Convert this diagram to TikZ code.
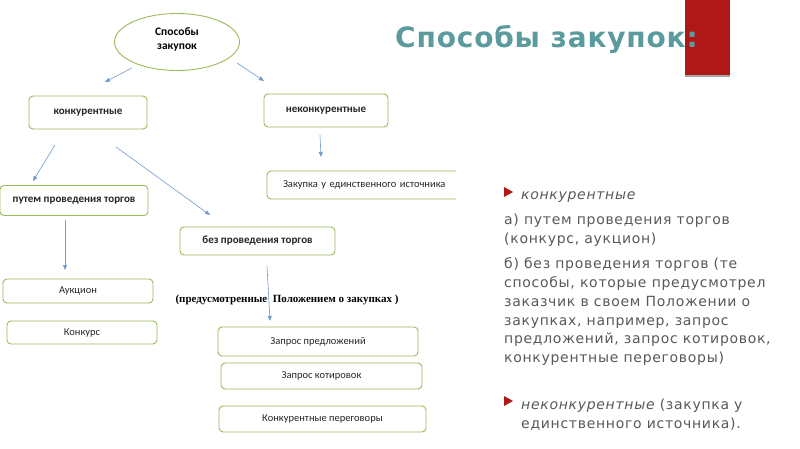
\documentclass[tikz,border=0pt]{standalone}
\usepackage{fontspec}
\setmainfont{Carlito}
\newfontfamily\titlefont[LetterSpace=3]{DejaVu Sans}
\newfontfamily\bodyfont[LetterSpace=5]{DejaVu Sans}
\newfontfamily\serifbold{Liberation Serif}
\usetikzlibrary{arrows.meta,shapes.geometric}
\definecolor{boxgreen}{HTML}{9BBB59}
\definecolor{arrowblue}{HTML}{6F9BD1}
\definecolor{titleteal}{HTML}{5B9A9D}
\definecolor{barred}{HTML}{B01818}
\definecolor{bodygrey}{HTML}{595959}
\begin{document}
\begin{tikzpicture}[x=1pt,y=-1pt,
  box/.style={draw=boxgreen, line width=0.9pt, rounded corners=4pt, inner sep=0pt,
    font=\fontsize{10.5}{12}\selectfont, text=black!85},
  bbox/.style={box, font=\fontsize{11}{13}\selectfont\bfseries},
  conn/.style={draw=arrowblue, line width=0.6pt, -{Triangle[length=5pt,width=4pt]}},
  body/.style={anchor=base west, inner sep=0pt, text=bodygrey, font=\bodyfont\fontsize{14}{16}\selectfont},
  bullet/.style={fill=barred, draw=none}
]
\fill[white] (0,0) rectangle (800,449);
\useasboundingbox (0,0) rectangle (800,449);

% title and red bar
\fill[black!35] (685,73) rectangle (730,77);
\fill[barred] (685,0) rectangle (730,75);
\node[anchor=base west, inner sep=0pt, text=titleteal, font=\titlefont\bfseries\fontsize{28}{30}\selectfont] (title) at (395,48) {Способы закупок:};

% diagram
\node[draw=boxgreen, line width=0.9pt, ellipse, minimum width=125pt, minimum height=57pt, inner sep=0pt, align=center,
  font=\fontsize{11.5}{14}\selectfont\bfseries] (root) at (177,42) {Способы\\закупок\\[-8pt]};
\node[bbox, minimum width=118pt, minimum height=33pt] (konk) at (88,112.5) {конкурентные};
\node[bbox, minimum width=124pt, minimum height=33pt] (nekonk) at (326,110.5) {неконкурентные};
\node[bbox, minimum width=148pt, minimum height=30pt] (torg) at (74,200.5) {путем проведения торгов};
\begin{scope}
\clip (260,160) rectangle (456,210);
\node[box, minimum width=200pt, minimum height=28pt, text width=200pt, align=left] (edin) at (367,185) {\hspace*{16pt}Закупка у единственного источника};
\end{scope}
\node[bbox, minimum width=155pt, minimum height=28pt] (bez) at (257.5,241) {без проведения торгов};
\node[box, minimum width=150pt, minimum height=24pt] (auk) at (78,291) {Аукцион};
\node[box, minimum width=150pt, minimum height=23pt] (konkurs) at (82,332.5) {Конкурс};
\node[inner sep=0pt, font=\serifbold\bfseries\fontsize{11}{13}\selectfont] (polozh) at (287,300) {(предусмотренные\ \ Положением о закупках )};
\node[box, minimum width=200pt, minimum height=29pt] (zpred) at (318,341.5) {Запрос предложений};
\node[box, minimum width=201pt, minimum height=26pt] (zkot) at (321.5,376) {Запрос котировок};
\node[box, minimum width=207pt, minimum height=26pt] (zper) at (322.5,419) {Конкурентные переговоры};

% connectors
\coordinate (a1s) at (132,68); \coordinate (a1e) at (105,82);
\coordinate (a2s) at (237,63); \coordinate (a2e) at (264,81);
\coordinate (a3s) at (55,145); \coordinate (a3e) at (33,181);
\coordinate (a4s) at (116,147); \coordinate (a4e) at (210,215);
\coordinate (a5s) at (320,135); \coordinate (a5e) at (321,157);
\coordinate (a6s) at (65,220); \coordinate (a6e) at (65,270);
\coordinate (a7s) at (267,266); \coordinate (a7e) at (270,321);
\draw[conn] (a1s) -- (a1e);
\draw[conn] (a2s) -- (a2e);
\draw[conn] (a3s) -- (a3e);
\draw[conn] (a4s) -- (a4e);
\draw[conn] (a5s) -- (a5e);
\draw[conn] (a6s) -- (a6e);
\draw[conn] (a7s) -- (a7e);

% right text
\fill[bullet] (504,187) -- (513,192) -- (504,197) -- cycle;
\node[body] (t1) at (521,200) {\itshape конкурентные};
\node[body] (t2) at (504,225) {а) путем проведения торгов};
\node[body] (t3) at (504,243) {(конкурс, аукцион)};
\node[body] (t4) at (504,268) {б) без проведения торгов (те};
\node[body] (t5) at (504,287) {способы, которые предусмотрел};
\node[body] (t6) at (504,306) {заказчик в своем Положении о};
\node[body] (t7) at (504,325) {закупках, например, запрос};
\node[body] (t8) at (504,343) {предложений, запрос котировок,};
\node[body] (t9) at (504,362) {конкурентные переговоры)};
\fill[bullet] (504,396) -- (513,401) -- (504,406) -- cycle;
\node[body] (t10) at (521,409) {{\itshape неконкурентные} (закупка у};
\node[body] (t11) at (521,428) {единственного источника).};
\end{tikzpicture}
\end{document}
